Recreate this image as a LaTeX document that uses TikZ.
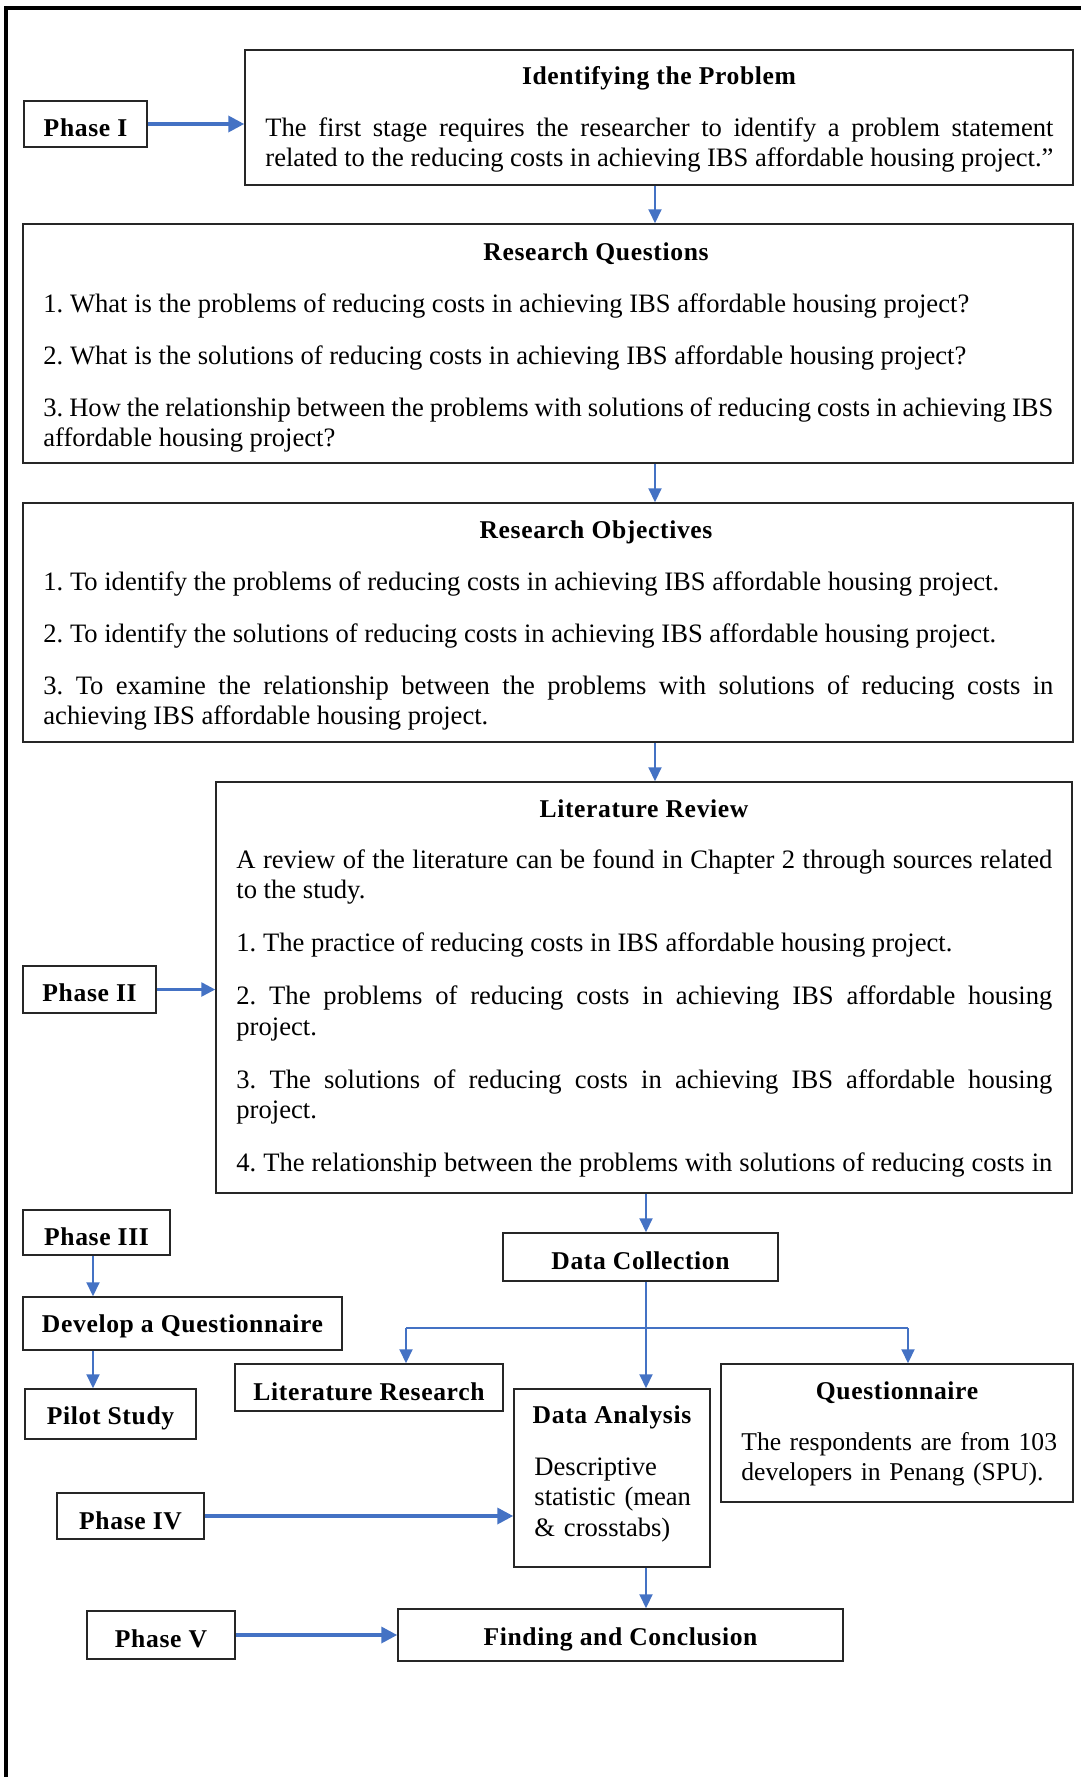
\documentclass[tikz,border=0pt]{standalone}
\usepackage{fontspec}
\setmainfont{Liberation Serif}[BoldFeatures={LetterSpace=2.5}]
\usetikzlibrary{fit,arrows.meta}
\definecolor{arrowblue}{HTML}{4472C4}
\hyphenpenalty=10000
\exhyphenpenalty=10000
\tolerance=9999
\frenchspacing
\begin{document}
\begin{tikzpicture}[x=0.5pt,y=-0.5pt,
  box/.style={draw=black!85, line width=0.75pt, inner sep=0pt},
  lbl/.style={font=\fontsize{12.8}{15.3}\selectfont\bfseries, inner sep=0pt, anchor=base},
  ttl/.style={font=\fontsize{12.8}{15.3}\selectfont\bfseries, inner sep=0pt, anchor=base},
  bodytext/.style={font=\fontsize{13.3}{15.3}\selectfont\frenchspacing, inner sep=0pt, anchor=base west},
  thinarrow/.style={draw=arrowblue, line width=1pt, -{Triangle[length=7pt,width=6.5pt]}},
  medarrow/.style={draw=arrowblue, line width=1.3pt, -{Triangle[length=7pt,width=7pt]}},
  thickarrow/.style={draw=arrowblue, line width=1.75pt, -{Triangle[length=8pt,width=8pt]}},
  blueline/.style={draw=arrowblue, line width=1pt},
]
\useasboundingbox (0,0) rectangle (1081,1777);
% outer frame
\draw[line width=2pt] (6,1777) -- (6,8) -- (1081,8);

% helper coordinates
\coordinate (xmain) at (655,0);
\coordinate (xdc) at (646,0);
\coordinate (xph) at (93,0);
\coordinate (bl) at (406,1328);
\coordinate (br) at (908,1328);

% Phase I and Identifying the Problem
\node[box, fit={(24,101)(147,147)}] (ph1) {};
\node[lbl] (ph1l) at ([yshift=-6pt]ph1.center) {Phase I};
\node[box, fit={(245,50)(1073,185)}] (ip) {};
\node[ttl] (iptitle) at (659,85) {Identifying the Problem};
\node[bodytext, text width=394pt, align=justify] (iptext) at (265,136)
  {The first stage requires the researcher to identify a problem statement\linebreak
   related to the reducing costs in achieving IBS affordable housing project.”};

% Research Questions
\node[box, fit={(23,224)(1073,463)}] (rq) {};
\node[ttl] (rqtitle) at (596,260) {Research Questions};
\node[bodytext, text width=505pt, align=justify] (rqtext) at (43,312)
  {\setlength{\parskip}{10.7pt}%
   1. What is the problems of reducing costs in achieving IBS affordable housing project?\par
   2. What is the solutions of reducing costs in achieving IBS affordable housing project?\par
   3. How the relationship between the problems with solutions of reducing costs in achieving IBS\linebreak
   affordable housing project?};

% Research Objectives
\node[box, fit={(23,503)(1073,742)}] (ro) {};
\node[ttl] (rotitle) at (596,538) {Research Objectives};
\node[bodytext, text width=505pt, align=justify] (rotext) at (43,590)
  {\setlength{\parskip}{10.7pt}%
   1. To identify the problems of reducing costs in achieving IBS affordable housing project.\par
   2. To identify the solutions of reducing costs in achieving IBS affordable housing project.\par
   3. To examine the relationship between the problems with solutions of reducing costs in\linebreak
   achieving IBS affordable housing project.};

% Literature Review
\node[box, fit={(216,782)(1072,1193)}] (lr) {};
\node[ttl] (lrtitle) at (644,817) {Literature Review};
\node[bodytext, text width=408pt, align=justify] (lrtext) at (236,868)
  {\setlength{\parskip}{11.2pt}%
   A review of the literature can be found in Chapter 2 through sources related\linebreak
   to the study.\par
   1. The practice of reducing costs in IBS affordable housing project.\par
   2. The problems of reducing costs in achieving IBS affordable housing\linebreak
   project.\par
   3. The solutions of reducing costs in achieving IBS affordable housing\linebreak
   project.\par
   \makebox[\linewidth][s]{4. The relationship between the problems with solutions of reducing costs in}};
\node[box, fit={(23,966)(156,1013)}] (ph2) {};
\node[lbl] (ph2l) at ([yshift=-6pt]ph2.center) {Phase II};

% Phase III branch
\node[box, fit={(23,1210)(170,1255)}] (ph3) {};
\node[lbl] (ph3l) at ([yshift=-6.5pt]ph3.center) {Phase III};
\node[box, fit={(23,1297)(342,1350)}] (dq) {};
\node[lbl] (dql) at ([yshift=-4.5pt]dq.center) {Develop a Questionnaire};
\node[box, fit={(25,1389)(196,1439)}] (ps) {};
\node[lbl] (psl) at ([yshift=-5pt]ps.center) {Pilot Study};

% Data collection branch
\node[box, fit={(503,1233)(778,1281)}] (dc) {};
\node[lbl] (dcl) at ([yshift=-6pt]dc.center) {Data Collection};
\node[box, fit={(235,1364)(503,1411)}] (lres) {};
\node[lbl] (lresl) at ([yshift=-6.5pt]lres.center) {Literature Research};
\node[box, fit={(514,1389)(710,1567)}] (da) {};
\node[ttl] (datitle) at (612,1423) {Data Analysis};
\node[bodytext, text width=86pt, align=left] (datext) at (534,1475)
  {Descriptive\\statistic (mean\\\& crosstabs)};
\node[box, fit={(721,1364)(1073,1502)}] (q) {};
\node[ttl] (qtitle) at (897,1399) {Questionnaire};
\node[bodytext, font=\fontsize{12.8}{15.3}\selectfont, text width=165pt, align=left] (qtext) at (741,1450)
  {The respondents are from 103\\developers in Penang (SPU).};

% Phase IV / V and Finding
\node[box, fit={(57,1493)(204,1539)}] (ph4) {};
\node[lbl] (ph4l) at ([yshift=-6.5pt]ph4.center) {Phase IV};
\node[box, fit={(87,1611)(235,1659)}] (ph5) {};
\node[lbl] (ph5l) at ([yshift=-6pt]ph5.center) {Phase V};
\node[box, fit={(398,1609)(843,1661)}] (fc) {};
\node[lbl] (fcl) at ([yshift=-5pt]fc.center) {Finding and Conclusion};

% connectors
\draw[thickarrow] (ph1.east) -- (ip.west |- ph1.east);
\draw[thinarrow] (ip.south -| xmain) -- (rq.north -| xmain);
\draw[thinarrow] (rq.south -| xmain) -- (ro.north -| xmain);
\draw[thinarrow] (ro.south -| xmain) -- (lr.north -| xmain);
\draw[medarrow] (ph2.east) -- (lr.west |- ph2.east);
\draw[thinarrow] (lr.south -| xdc) -- (dc.north -| xdc);
\draw[thinarrow] (ph3.south -| xph) -- (dq.north -| xph);
\draw[thinarrow] (dq.south -| xph) -- (ps.north -| xph);
\draw[thinarrow] (dc.south -| xdc) -- (da.north -| xdc);
\draw[blueline] (bl) -- (br);
\draw[thinarrow] (bl) -- (lres.north -| bl);
\draw[thinarrow] (br) -- (q.north -| br);
\draw[thickarrow] (ph4.east) -- (da.west |- ph4.east);
\draw[thinarrow] (da.south -| xdc) -- (fc.north -| xdc);
\draw[thickarrow] (ph5.east) -- (fc.west |- ph5.east);
\end{tikzpicture}
\end{document}
